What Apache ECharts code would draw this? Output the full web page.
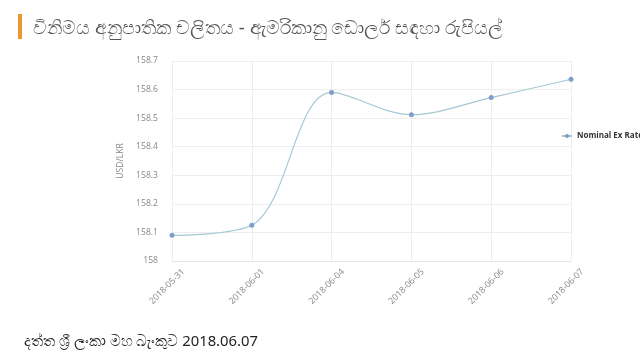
<!DOCTYPE html>
<html><head><meta charset="utf-8">
<script src="https://cdn.jsdelivr.net/npm/echarts@6/dist/echarts.min.js"></script>
<style>html,body{margin:0;padding:0;background:#fff}#c{width:640px;height:360px}</style>
</head><body><div id="c"></div>
<script>
const categories = ['2018-05-31','2018-06-01','2018-06-04','2018-06-05','2018-06-06','2018-06-07'];
const rateValues = [158.09, 158.125, 158.59, 158.512, 158.572, 158.636];
const yTicks = [158, 158.7, 0.1];
const seriesName = 'Nominal Ex Rate';
const titleText = 'විනිමය අනුපාතික චලිතය - ඇමරිකානු ඩොලර් සඳහා රුපියල්';
const footerText = 'දත්ත ශ්‍රී ලංකා මහ බැංකුව 2018.06.07';

const chart = echarts.init(document.getElementById('c'));
chart.setOption({
  animation: false,
  backgroundColor: '#fff',
  graphic: [
    {type:'rect', shape:{x:18,y:14,width:4,height:25}, style:{fill:'#f0962e'}},
    {type:'text', left:33, top:19, style:{text:titleText, font:'18.8px "Noto Sans", sans-serif', fill:'#555'}},
    {type:'text', left:24, top:334, style:{text:footerText, font:'14.8px "Noto Sans", sans-serif', fill:'#222'}}
  ],
  legend: {
    data:[seriesName], orient:'vertical', left:561, top:132, padding:0,
    itemWidth:10, itemHeight:5, itemGap:4,
    textStyle:{fontFamily:'Open Sans', fontSize:8, fontWeight:'bold', color:'#333'}
  },
  grid: {left:172, right:69, top:61, bottom:99, containLabel:false},
  xAxis: {
    type:'category', data:categories, boundaryGap:false,
    axisLine:{show:true, lineStyle:{color:'#e6e6e6'}},
    axisTick:{show:false},
    splitLine:{show:true, lineStyle:{color:'#eeeeee'}},
    axisLabel:{rotate:45, color:'#888', fontFamily:'Open Sans', fontSize:8.8, margin:-2, interval:0,
      verticalAlign:'top', lineHeight:32}
  },
  yAxis: {
    type:'value', min:yTicks[0], max:yTicks[1], interval:yTicks[2],
    name:'USD/LKR', nameLocation:'middle', nameGap:37, nameRotate:90,
    nameTextStyle:{color:'#888', fontFamily:'Open Sans', fontSize:8.6},
    axisLine:{show:false}, axisTick:{show:false},
    splitLine:{lineStyle:{color:'#eeeeee'}},
    axisLabel:{color:'#888', fontFamily:'Open Sans', fontSize:8.6, margin:14,
      formatter: v => String(Math.round(v*10)/10)}
  },
  series: [{
    name: seriesName, type:'line', data: rateValues, smooth:0.35,
    symbol:'circle', symbolSize:5,
    lineStyle:{color:'#a6c8d6', width:1.2},
    itemStyle:{color:'#7f9fcb'}
  }]
});
</script></body></html>
